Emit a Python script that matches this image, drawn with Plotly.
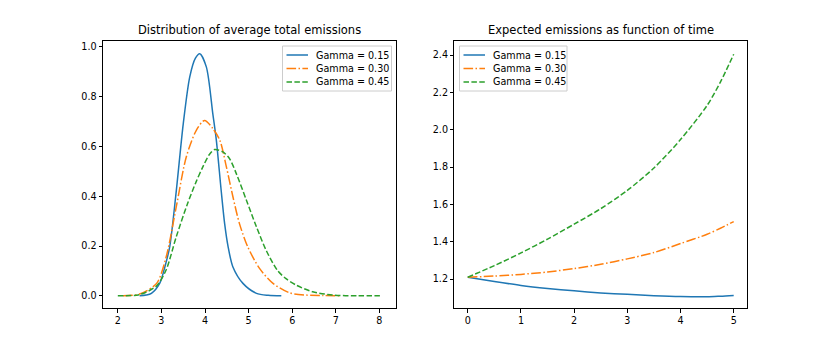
import plotly.graph_objects as go
from plotly.subplots import make_subplots

# left panel: density of average total emissions
blue_x = [2.5, 2.65, 2.77, 2.96, 3.08, 3.19, 3.34, 3.50, 3.65, 3.78, 3.88,
          4.03, 4.18, 4.26, 4.37, 4.45, 4.53, 4.64, 4.87, 5.18, 5.45, 5.75]
blue_y = [0.0, 0.003, 0.01, 0.05, 0.117, 0.197, 0.42, 0.69, 0.88, 0.955, 0.973,
          0.92, 0.73, 0.625, 0.424, 0.29, 0.197, 0.116, 0.05, 0.01, 0.002, 0.0]

orange_x = [2.12, 2.5, 2.89, 3.11, 3.34, 3.57, 3.80, 3.99, 4.18, 4.34, 4.49,
            4.64, 4.79, 4.98, 5.25, 5.56, 5.94, 6.32, 6.7, 7.08]
orange_y = [0.0, 0.007, 0.05, 0.157, 0.357, 0.558, 0.665, 0.705, 0.672, 0.625,
            0.518, 0.398, 0.29, 0.197, 0.11, 0.05, 0.012, 0.003, 0.001, 0.0]

green_x = [2.0, 2.5, 2.89, 3.11, 3.34, 3.60, 3.80, 3.95, 4.1, 4.22, 4.41,
           4.56, 4.72, 4.95, 5.18, 5.41, 5.67, 5.85, 6.09, 6.47, 6.93, 7.5, 8.06]
green_y = [0.0, 0.005, 0.04, 0.105, 0.237, 0.371, 0.46, 0.518, 0.568, 0.588,
           0.578, 0.552, 0.49, 0.384, 0.277, 0.18, 0.10, 0.07, 0.043, 0.016,
           0.003, 0.0, 0.0]

# right panel: expected emissions over time
t = [0, 0.5, 1, 1.5, 2, 2.5, 3, 3.5, 4, 4.5, 4.75, 5]
exp_015 = [1.21, 1.187, 1.166, 1.15, 1.137, 1.126, 1.118, 1.111, 1.106, 1.105,
           1.108, 1.112]
exp_030 = [1.21, 1.216, 1.225, 1.238, 1.256, 1.279, 1.308, 1.342, 1.39, 1.44,
           1.472, 1.508]
exp_045 = [1.21, 1.272, 1.34, 1.414, 1.494, 1.577, 1.675, 1.795, 1.947, 2.13,
           2.255, 2.404]

names = ["Gamma = 0.15", "Gamma = 0.30", "Gamma = 0.45"]
colors = ["#1f77b4", "#ff7f0e", "#2ca02c"]
dashes = ["solid", "9.6px,2.4px,1.5px,2.4px", "5.5px,2.4px"]

font = "DejaVu Sans"

fig = make_subplots(rows=1, cols=2, horizontal_spacing=0.0915,
                    subplot_titles=("Distribution of average total emissions",
                                    "Expected emissions as function of time"))

left = [(blue_x, blue_y), (orange_x, orange_y), (green_x, green_y)]
for (x, y), name, c, d in zip(left, names, colors, dashes):
    fig.add_trace(go.Scatter(x=x, y=y, mode="lines", name=name,
                             line=dict(color=c, width=1.5, dash=d,
                                       shape="spline", smoothing=0.8)),
                  row=1, col=1)

right = [exp_015, exp_030, exp_045]
for y, name, c, d in zip(right, names, colors, dashes):
    fig.add_trace(go.Scatter(x=t, y=y, mode="lines", name=name,
                             line=dict(color=c, width=1.5, dash=d,
                                       shape="spline", smoothing=0.8)),
                  row=1, col=2)

axis_style = dict(showline=True, linecolor="black", linewidth=1, mirror=True,
                  ticks="outside", ticklen=3.5, tickcolor="black",
                  showgrid=False, zeroline=False,
                  tickfont=dict(family=font, size=9.6, color="black"))

fig.update_xaxes(**axis_style)
fig.update_yaxes(**axis_style)
fig.update_xaxes(range=[1.66, 8.37], tickvals=[2, 3, 4, 5, 6, 7, 8], row=1, col=1)
fig.update_yaxes(range=[-0.049, 1.024], tickvals=[0, 0.2, 0.4, 0.6, 0.8, 1.0],
                 tickformat=".1f", row=1, col=1)
fig.update_xaxes(range=[-0.25, 5.25], tickvals=[0, 1, 2, 3, 4, 5], row=1, col=2)
fig.update_yaxes(range=[1.045, 2.475], tickvals=[1.2, 1.4, 1.6, 1.8, 2.0, 2.2, 2.4],
                 tickformat=".1f", row=1, col=2)

for ann in fig.layout.annotations:
    ann.font = dict(family=font, size=11.5, color="black")
    ann.yshift = 2

# matplotlib-like legends (compact rows), drawn in paper coordinates
ML, MT, PW, PH = 103, 41, 644, 267


def px(x):
    return (x - ML) / PW


def py(y):
    return 1 - (y - MT) / PH


def add_legend(box_left, box_right):
    fig.add_shape(type="rect", xref="paper", yref="paper",
                  x0=px(box_left), x1=px(box_right), y0=py(91), y1=py(46),
                  line=dict(color="#cccccc", width=1),
                  fillcolor="rgba(255,255,255,0.8)", layer="above")
    for i, (name, c, d) in enumerate(zip(names, colors, dashes)):
        row_y = py(55 + i * 13.5)
        fig.add_shape(type="line", xref="paper", yref="paper",
                      x0=px(box_left + 4), x1=px(box_left + 25.5),
                      y0=row_y, y1=row_y,
                      line=dict(color=c, width=1.5, dash=d), layer="above")
        fig.add_annotation(xref="paper", yref="paper", x=px(box_left + 31.5),
                           y=row_y, text=name, showarrow=False,
                           xanchor="left", yanchor="middle",
                           font=dict(family=font, size=9.6, color="black"))


add_legend(282.5, 391.5)
add_legend(459.5, 567)

fig.update_layout(
    width=830, height=346,
    margin=dict(l=ML, r=830 - ML - PW, t=MT, b=346 - MT - PH),
    paper_bgcolor="white", plot_bgcolor="white",
    font=dict(family=font, size=9.6, color="black"),
    showlegend=False,
)

fig.write_html("out.html", config={"displayModeBar": False},
               post_script="document.body.style.margin='0';")
